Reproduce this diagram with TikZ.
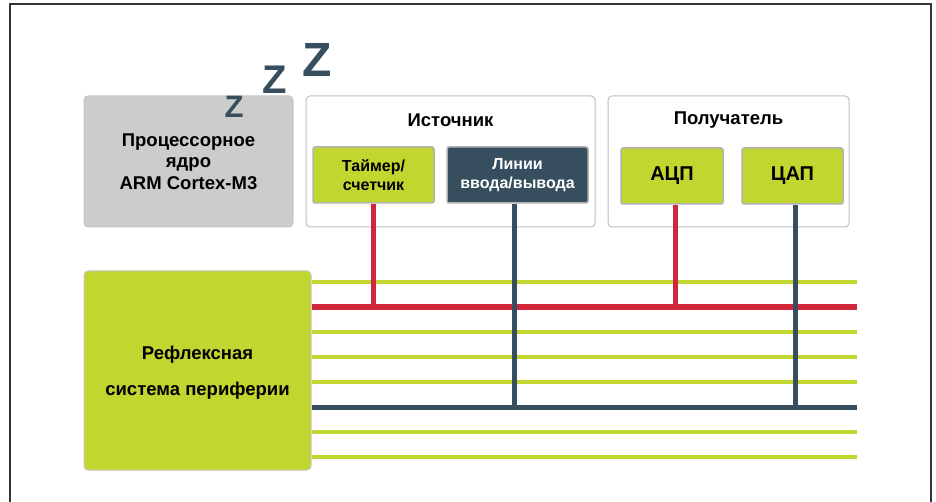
\documentclass[tikz,border=0pt]{standalone}
\usepackage{fontspec}
\setmainfont{Liberation Sans}
\usetikzlibrary{positioning}
\definecolor{buslime}{HTML}{C1D72F}
\definecolor{busred}{HTML}{D0283A}
\definecolor{busslate}{HTML}{364E5E}
\definecolor{coregray}{HTML}{CCCCCC}

\begin{document}
\begin{tikzpicture}[x=1pt, y=-1pt,
    frame/.style={draw=black!25, line width=1pt, rounded corners=4pt},
    unit/.style={draw=black!30, line width=1.5pt, rounded corners=2pt, inner sep=0pt,
      minimum height=56pt, align=center, font=\bfseries\fontsize{16}{18.5}\selectfont},
    title/.style={font=\bfseries\fontsize{18.5}{20}\selectfont},
    zee/.style={text=busslate, font=\bfseries, inner sep=0pt},
    bus/.style={line width=4pt, buslime},
    wire/.style={line width=5pt}]
    \useasboundingbox (0,0) rectangle (936,502);
    \draw[line width=1.5pt, black!80] (10,503) -- (10,4) -- (931,4) -- (931,503);

    % processor core
    \node[frame, fill=coregray, draw=black!22, minimum width=209pt, minimum height=131pt,
      align=center, font=\bfseries\fontsize{18.5}{21.5}\selectfont] (proc) at (188.5,161.5)
      {Процессорное\\ядро\\ARM Cortex-M3};
    \node[zee, font=\bfseries\fontsize{31}{31}\selectfont] (z1) at (234,107) {Z};
    \node[zee, font=\bfseries\fontsize{40}{40}\selectfont] (z2) at (275,80) {Z};
    \node[zee, font=\bfseries\fontsize{48}{48}\selectfont] (z3) at (317.5,59.5) {Z};

    % source
    \node[frame, minimum width=289pt, minimum height=131pt] (src) at (450.5,161.5) {};
    \node[title] (srctitle) at (450.5,120) {Источник};
    \node[unit, fill=buslime, minimum width=121pt] (timer) at (373.5,175) {Таймер/\\счетчик};
    \node[unit, fill=busslate, text=white, minimum width=141pt] (io) at (517.5,175) {Линии\\ввода/вывода};

    % receiver
    \node[frame, minimum width=241pt, minimum height=131pt] (recv) at (728.5,161.5) {};
    \node[title] (recvtitle) at (728.5,120) {Получатель};
    \node[unit, fill=buslime, minimum width=102pt, font=\bfseries\fontsize{20}{24}\selectfont] (adc) at (672,176) {АЦП};
    \node[unit, fill=buslime, minimum width=101pt, font=\bfseries\fontsize{20}{24}\selectfont] (dac) at (792.5,176) {ЦАП};

    % peripheral reflex system
    \node[frame, fill=buslime, draw=black!22, minimum width=227pt, minimum height=199pt] (periph) at (197.5,370.5) {};
    \node[align=center, font=\bfseries\fontsize{18.5}{36}\selectfont] (periphtext) at (197.5,373)
      {Рефлексная\\система периферии};

    % bus lines
    \foreach \i in {1,...,8} \coordinate (b\i) at (857,257+25*\i);
    \foreach \i in {1,3,4,5,7,8} \draw[bus] (periph.east |- b\i) -- (b\i);
    \draw[wire, busred] (periph.east |- b2) -- (b2);
    \draw[wire, busslate] (periph.east |- b6) -- (b6);

    % taps
    \draw[wire, busred] (timer.south) -- (timer.south |- b2);
    \draw[wire, busred] ([xshift=3pt]adc.south) -- ([xshift=3pt]adc.south |- b2);
    \draw[wire, busslate] ([xshift=-3pt]io.south) -- ([xshift=-3pt]io.south |- b6);
    \draw[wire, busslate] ([xshift=3pt]dac.south) -- ([xshift=3pt]dac.south |- b6);
  \end{tikzpicture}
\end{document}
